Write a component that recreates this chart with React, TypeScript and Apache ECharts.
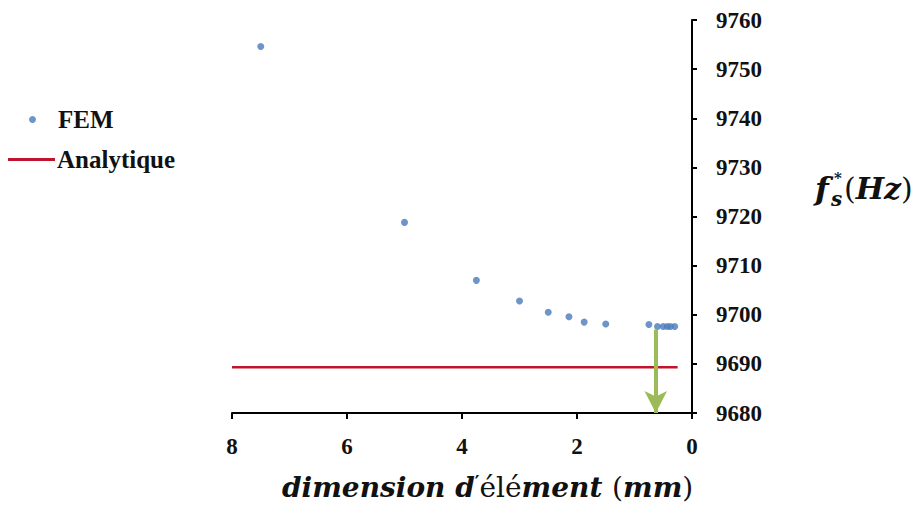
import React, { useEffect, useRef } from "react";
import * as echarts from "echarts";

const femX = [7.5, 5, 3.75, 3, 2.5, 2.14, 1.875, 1.5, 0.75, 0.6, 0.5, 0.43, 0.375, 0.3];
const femY = [9754.6, 9718.8, 9707.0, 9702.8, 9700.5, 9699.6, 9698.5, 9698.1, 9698.0, 9697.6, 9697.6, 9697.6, 9697.6, 9697.6];
const analyticX = [8, 0.25];
const analyticValue = 9689.3;
const arrowX = 0.63;
const arrowFrom = 9697;
const arrowTo = 9680;
const legendNames = ["FEM", "Analytique"];

const SERIF = "Liberation Serif";
const MATH = "DejaVu Serif";

export default function App() {
  const ref = useRef<HTMLDivElement>(null);
  useEffect(() => {
    if (!ref.current) return;
    const chart = echarts.init(ref.current, undefined, { renderer: "svg" });
    const femData = femX.map((x, i) => [x, femY[i]]);
    const anaData = analyticX.map((x) => [x, analyticValue]);
    const legendText = { fontFamily: SERIF, fontWeight: "bold", fontSize: 25, color: "#111" };
    chart.setOption({
      animation: false,
      backgroundColor: "#ffffff",
      grid: { left: 232, right: 222, top: 20, bottom: 94, containLabel: false },
      legend: [
        {
          data: [{ name: legendNames[0], icon: "circle" }],
          orient: "vertical",
          left: 29,
          top: 107,
          padding: 0,
          itemWidth: 7,
          itemHeight: 7,
          textStyle: { ...legendText, padding: [0, 0, 0, 17] },
        },
        {
          data: [{ name: legendNames[1], icon: "rect" }],
          orient: "vertical",
          left: 8,
          top: 147,
          padding: 0,
          itemWidth: 47,
          itemHeight: 3,
          textStyle: { ...legendText, padding: [0, 0, 0, -3] },
        },
      ],
      xAxis: {
        type: "value",
        min: 0,
        max: 8,
        interval: 2,
        inverse: true,
        axisLine: { show: true, onZero: false, lineStyle: { color: "#000", width: 2 } },
        axisTick: { show: true, length: 6, lineStyle: { color: "#000", width: 2 } },
        axisLabel: { fontFamily: SERIF, fontWeight: "bold", fontSize: 23, color: "#111", margin: 22 },
        splitLine: { show: false },
      },
      yAxis: {
        type: "value",
        position: "right",
        min: 9680,
        max: 9760,
        interval: 10,
        axisLine: { show: true, onZero: false, lineStyle: { color: "#000", width: 2 } },
        axisTick: { show: true, length: 5, lineStyle: { color: "#000", width: 2 } },
        axisLabel: {
          fontFamily: SERIF,
          fontWeight: "bold",
          fontSize: 23,
          color: "#111",
          margin: 24,
          formatter: (v: number) => String(v),
        },
        splitLine: { show: false },
      },
      graphic: [
        {
          type: "text",
          left: 282,
          top: 473,
          style: {
            text: "{i|dimension d}{p|′}{r|élé}{i|ment }{r|(}{i|mm}{r|)}",
            rich: {
              i: { fontFamily: MATH, fontStyle: "italic", fontWeight: "bold", fontSize: 28, fill: "#111" },
              r: { fontFamily: MATH, fontWeight: "normal", fontSize: 28, fill: "#111" },
              p: { fontFamily: MATH, fontWeight: "bold", fontSize: 18, fill: "#111", verticalAlign: "top" },
            },
          },
        },
        {
          type: "text",
          x: 815,
          y: 173,
          style: { text: "f", fontFamily: MATH, fontStyle: "italic", fontWeight: "bold", fontSize: 32, fill: "#111" },
        },
        {
          type: "text",
          x: 831,
          y: 189,
          style: { text: "s", fontFamily: MATH, fontStyle: "italic", fontWeight: "bold", fontSize: 20, fill: "#111" },
        },
        {
          type: "text",
          x: 834,
          y: 170,
          style: { text: "*", fontFamily: MATH, fontWeight: "bold", fontSize: 15, fill: "#111" },
        },
        {
          type: "text",
          x: 844,
          y: 173,
          style: {
            text: "{r|(}{i|Hz}{r|)}",
            rich: {
              i: { fontFamily: MATH, fontStyle: "italic", fontWeight: "bold", fontSize: 30, fill: "#111" },
              r: { fontFamily: MATH, fontWeight: "normal", fontSize: 30, fill: "#111" },
            },
          },
        },
      ],
      series: [
        {
          name: "FEM",
          type: "scatter",
          data: femData,
          symbol: "circle",
          symbolSize: 7,
          itemStyle: { color: "#4a7bbb" },
          z: 3,
        },
        {
          name: "Analytique",
          type: "line",
          data: anaData,
          showSymbol: false,
          symbol: "none",
          lineStyle: { color: "#c0142c", width: 2.5 },
          itemStyle: { color: "#c0142c" },
          z: 2,
        },
        {
          name: "arrow",
          type: "line",
          data: [],
          z: 4,
          markLine: {
            silent: true,
            symbol: ["none", "arrow"],
            symbolSize: [17, 22],
            label: { show: false },
            lineStyle: { color: "#9bbb59", width: 4, type: "solid" },
            data: [[{ coord: [arrowX, arrowFrom] }, { coord: [arrowX, arrowTo] }]],
          },
        },
      ],
    });
    return () => chart.dispose();
  }, []);
  return <div ref={ref} style={{ width: 914, height: 507, position: "absolute", left: 0, top: 0 }} />;
}
